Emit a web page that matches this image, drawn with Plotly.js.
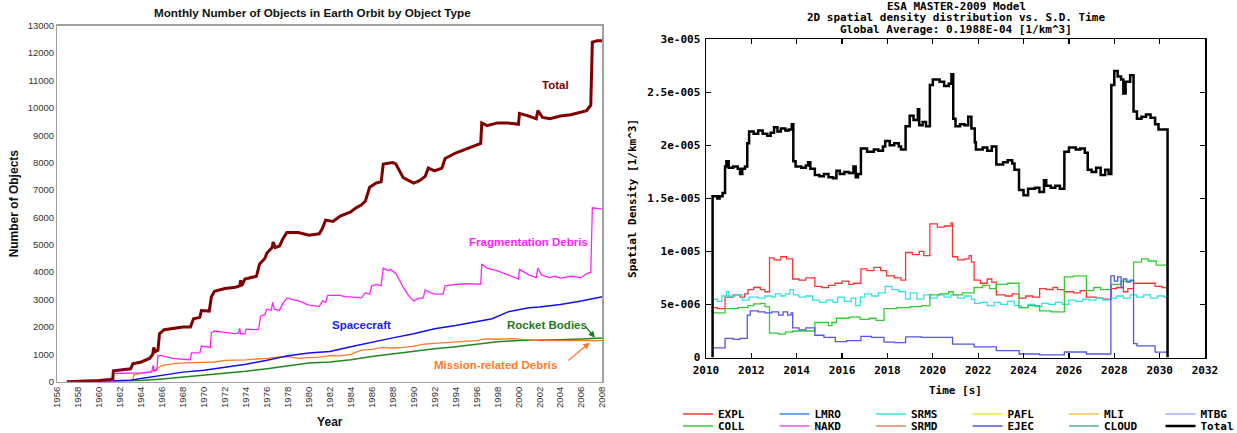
<!DOCTYPE html>
<html><head><meta charset="utf-8">
<script src="https://cdn.plot.ly/plotly-3.0.1.min.js"></script>
<style>html,body{margin:0;padding:0;background:#fff}#chart{width:1237px;height:433px}</style>
</head><body><div id="chart"></div>
<script>
// ===== Left chart: Monthly Number of Objects in Earth Orbit by Object Type =====
var totalYears = [1956.9,1958,1959,1960,1961,1961.3,1961.35,1962,1962.7,1963,1963.2,1964,1964.8,1965.1,1965.2,1965.35,1965.6,1965.75,1966.2,1967,1968,1968.7,1969,1969.6,1969.75,1970.5,1970.7,1971,1972,1973,1973.4,1973.5,1973.6,1973.9,1975,1975.3,1975.8,1976,1976.5,1976.6,1976.8,1977.2,1977.5,1977.9,1979,1980,1981,1981.3,1981.6,1982.3,1982.7,1983,1984,1984.5,1985,1985.4,1985.8,1986.4,1986.9,1987.1,1988,1988.3,1989,1989.5,1990,1990.6,1991.1,1991.4,1992,1992.7,1993,1994,1995,1996,1996.4,1996.5,1997,1998,1999,2000,2000.1,2001,2001.7,2001.85,2002.3,2003,2004,2005,2006,2006.5,2006.9,2007.05,2007.5,2008];
var totalCount = [0,10,20,40,80,100,400,430,480,470,650,720,850,1000,1250,1100,1150,1750,1900,1950,2000,2000,2300,2350,2600,2580,3100,3300,3400,3450,3500,3700,3500,3750,3850,4300,4500,4700,4900,5100,4900,4950,5200,5450,5450,5350,5400,5600,5900,5850,5950,6050,6200,6350,6450,6600,7100,7250,7300,7950,8000,7950,7450,7350,7250,7350,7500,7800,7700,7800,8150,8350,8500,8650,8700,9450,9350,9450,9450,9400,9800,9700,9600,9900,9650,9600,9700,9750,9850,9900,10100,12400,12450,12450];

var fragYears = [1956.9,1961.25,1961.3,1962,1963,1964,1965,1965.15,1965.25,1965.5,1965.6,1966,1966.5,1967,1968,1968.7,1968.8,1969.6,1969.75,1970.6,1970.7,1971,1972,1973,1973.3,1973.4,1973.5,1973.9,1974,1975.2,1975.4,1975.8,1976,1976.4,1976.55,1976.7,1977.2,1977.5,1977.9,1979,1980,1981,1981.3,1981.6,1981.8,1983,1983.5,1984,1985,1985.4,1985.8,1986,1986.5,1986.9,1987.1,1987.6,1987.8,1988.3,1989,1989.5,1990,1990.5,1990.9,1991.1,1991.6,1992,1992.8,1993,1994,1995,1996.4,1996.5,1997,1998,1999,2000,2000.1,2001,2001.7,2001.85,2002.2,2003,2003.5,2004,2005,2006,2006.5,2006.9,2007.05,2008];
var fragCount = [0,0,300,300,310,320,350,600,380,420,950,950,900,850,820,800,1050,1050,1300,1250,1800,1850,1800,1750,1780,1950,1750,1750,1920,1900,2400,2450,2650,2600,2900,2650,2600,2850,3050,2950,2800,2750,2950,2900,3150,3150,3100,3100,3050,3250,3200,3500,3550,3500,4150,4050,4100,3950,3450,3150,2950,3050,3050,3350,3250,3200,3200,3500,3550,3580,3560,4300,4150,4050,3900,3750,4100,3900,3800,4150,3900,3800,3850,3780,3850,3800,3950,4000,6350,6300];

var scYears = [1957.8,1960,1962,1963,1964,1965,1966,1967,1968,1970,1972,1974,1976,1978,1980,1982,1984,1986,1988,1990,1992,1994,1996,1997.5,1999,2000,2001,2002,2004,2006,2008];
var scCount = [0,10,30,50,120,180,250,300,350,420,520,640,780,950,1050,1100,1280,1450,1600,1750,1930,2050,2200,2300,2550,2620,2700,2730,2820,2950,3100];

var rbYears = [1958,1962,1964,1966,1968,1970,1972,1974,1976,1978,1980,1982,1984,1986,1988,1990,1992,1994,1996,1998,2000,2002,2004,2006,2008];
var rbCount = [0,10,40,100,170,230,300,380,470,580,680,720,800,920,1020,1100,1200,1280,1380,1460,1500,1510,1530,1560,1600];

var mrdYears = [1961.2,1962,1963.2,1963.3,1964,1965,1965.6,1966,1967,1968,1969,1970,1971,1972,1974,1976,1977,1978,1979,1980,1981,1982,1983,1984,1985,1986,1987,1988,1989,1990,1991,1992,1994,1996,1996.8,1998,1999.5,2001,2002,2004,2006,2008];
var mrdCount = [0,40,60,250,300,380,500,600,650,690,700,700,720,780,800,850,900,920,850,880,900,950,940,1000,1150,1180,1250,1230,1250,1300,1370,1400,1460,1500,1560,1550,1570,1540,1500,1500,1510,1500];

var leftLabels = ['Total','Fragmentation Debris','Spacecraft','Rocket Bodies','Mission-related Debris'];

// ===== Right chart: ESA MASTER-2009 spatial density (units of 1e-6 per km^3) =====
var totYears = [2010.29,2010.29,2010.5,2010.6,2010.73,2010.84,2010.9,2011.0,2011.2,2011.4,2011.5,2011.6,2011.72,2011.82,2011.9,2012.1,2012.3,2012.5,2012.7,2012.85,2013.0,2013.15,2013.3,2013.5,2013.65,2013.78,2013.85,2013.95,2014.2,2014.4,2014.5,2014.6,2014.8,2015.0,2015.2,2015.4,2015.6,2015.75,2015.9,2016.1,2016.3,2016.5,2016.6,2016.7,2016.83,2017.1,2017.4,2017.6,2017.8,2017.9,2018.1,2018.3,2018.5,2018.6,2018.8,2018.98,2019.15,2019.34,2019.4,2019.55,2019.7,2019.87,2020.0,2020.3,2020.5,2020.7,2020.82,2020.9,2021.0,2021.2,2021.4,2021.56,2021.7,2021.85,2021.9,2022.2,2022.4,2022.6,2022.8,2023.1,2023.3,2023.5,2023.6,2023.8,2024.0,2024.2,2024.5,2024.7,2024.9,2025.0,2025.2,2025.4,2025.6,2025.8,2026.0,2026.3,2026.5,2026.7,2026.83,2027.0,2027.2,2027.4,2027.6,2027.75,2027.87,2028.0,2028.15,2028.3,2028.4,2028.5,2028.7,2028.85,2029.0,2029.2,2029.4,2029.6,2029.8,2029.95,2030.35];
var totDensity = [0,15.2,15.0,15.2,15.5,18.0,18.5,17.9,18.0,17.8,17.3,17.8,18.0,20.2,21.3,21.1,21.4,21.1,20.9,21.2,21.7,21.3,21.6,21.4,21.5,22.0,18.5,18.0,17.9,18.1,18.4,17.8,17.2,17.1,17.3,17.0,16.9,17.6,17.3,17.5,17.4,18.0,17.0,17.3,19.7,19.4,19.6,19.5,19.9,20.4,20.0,20.2,19.9,19.6,21.8,22.8,22.4,23.4,21.9,22.2,21.8,25.7,26.2,26.0,25.6,25.8,26.7,22.5,21.8,22.0,21.9,22.7,21.6,20.3,19.6,19.8,19.5,19.9,18.2,18.4,18.6,18.3,17.7,15.8,15.3,15.9,16.0,15.6,16.7,16.2,16.0,16.2,15.9,19.4,19.8,19.6,19.7,19.3,17.7,17.5,17.9,17.2,17.7,17.3,25.7,27.0,26.5,26.2,24.9,26.0,26.6,23.2,22.5,22.7,22.9,22.6,22.0,21.5,0];

var explYears = [2010.3,2010.5,2010.84,2011.2,2011.5,2011.7,2011.85,2012.1,2012.4,2012.6,2012.8,2013.0,2013.3,2013.55,2013.82,2014.1,2014.4,2014.8,2015.1,2015.4,2015.68,2016.0,2016.3,2016.5,2016.83,2017.1,2017.4,2017.7,2017.96,2018.3,2018.6,2018.8,2019.1,2019.4,2019.6,2019.87,2020.2,2020.5,2020.8,2020.87,2021.1,2021.4,2021.6,2021.7,2021.82,2022.1,2022.4,2022.6,2022.8,2023.2,2023.5,2023.8,2024.1,2024.4,2024.71,2025.0,2025.3,2025.5,2025.8,2026.2,2026.5,2026.77,2027.2,2027.5,2027.87,2028.1,2028.4,2028.6,2028.85,2029.4,2029.8,2030.1,2030.35];
var explDensity = [4.7,4.6,5.7,5.9,5.7,6.0,6.4,6.6,6.4,6.2,9.4,9.2,9.5,9.3,7.4,7.3,7.5,6.7,6.6,6.8,7.0,7.2,6.9,7.0,8.35,8.2,8.5,8.2,7.7,7.5,7.3,9.9,9.7,10.0,9.6,12.6,12.3,12.4,12.7,9.5,9.2,9.3,9.6,9.0,7.3,7.0,7.4,7.1,5.9,5.8,6.0,5.6,5.8,5.7,6.5,6.4,6.6,6.4,6.2,6.1,6.3,5.7,5.6,5.5,6.5,6.6,6.2,6.5,7.0,7.0,6.7,6.6,6.7];

var collYears = [2010.3,2010.84,2011.4,2011.85,2012.1,2012.4,2012.6,2012.8,2013.2,2013.5,2013.82,2014.8,2015.4,2015.55,2015.75,2016.3,2016.8,2017.2,2017.5,2017.85,2018.4,2019.0,2019.5,2019.87,2020.3,2020.7,2020.9,2021.3,2021.82,2022.2,2022.5,2022.8,2023.3,2023.8,2024.2,2024.71,2025.2,2025.8,2026.2,2026.77,2027.1,2027.4,2027.87,2028.3,2028.85,2029.2,2029.5,2029.85,2030.35];
var collDensity = [4.2,4.6,4.7,4.9,5.05,5.1,4.8,2.3,2.2,2.4,2.5,3.3,3.0,3.3,3.7,3.8,3.6,3.7,3.5,4.6,4.7,4.8,4.9,5.9,6.0,6.2,5.9,6.1,6.6,6.8,6.5,6.9,7.0,4.7,4.9,4.4,4.3,7.6,7.7,6.3,6.6,6.4,6.9,7.2,9.0,9.3,9.1,8.7,8.8];

var srmsYears = [2010.3,2010.5,2010.7,2010.9,2011.0,2011.3,2011.6,2011.9,2012.3,2012.6,2012.9,2013.05,2013.3,2013.5,2013.7,2013.85,2014.1,2014.4,2014.7,2015.0,2015.3,2015.6,2015.8,2016.1,2016.4,2016.6,2016.8,2017.0,2017.3,2017.6,2017.9,2018.2,2018.5,2018.8,2019.0,2019.3,2019.6,2019.9,2020.2,2020.5,2020.8,2021.1,2021.4,2021.7,2021.85,2022.1,2022.4,2022.7,2023.0,2023.3,2023.6,2023.9,2024.2,2024.5,2024.8,2025.1,2025.4,2025.7,2026.0,2026.3,2026.6,2026.9,2027.2,2027.5,2027.8,2028.1,2028.4,2028.7,2029.0,2029.3,2029.6,2029.9,2030.2,2030.35];
var srmsDensity = [5.5,5.3,5.8,6.2,5.8,5.9,5.4,5.7,5.6,5.8,5.7,6.0,5.8,6.0,6.4,5.9,5.7,5.8,5.4,5.2,5.4,5.2,5.7,5.3,5.6,4.9,5.7,6.0,5.8,6.1,6.7,6.4,6.2,5.5,6.1,5.5,5.9,5.6,5.9,5.7,5.9,5.6,5.8,5.5,5.1,5.2,4.9,5.2,5.0,5.3,4.9,4.7,5.0,4.8,5.1,5.0,5.2,5.0,5.4,5.3,5.5,5.4,5.6,5.4,5.6,5.8,5.6,5.9,5.7,5.9,5.6,5.8,5.7,5.7];

var ejecYears = [2010.3,2010.84,2011.2,2011.5,2011.82,2011.95,2012.3,2012.6,2012.9,2013.2,2013.4,2013.6,2013.75,2013.82,2014.1,2014.4,2014.8,2015.2,2015.7,2016.2,2016.83,2017.3,2017.85,2018.3,2018.8,2019.5,2020.3,2020.87,2021.82,2022.8,2023.8,2024.71,2025.8,2026.77,2027.85,2028.0,2028.15,2028.3,2028.4,2028.55,2028.7,2028.85,2029.0,2029.5,2029.8,2030.35];
var ejecDensity = [0.9,1.8,1.7,1.8,4.0,4.4,4.3,4.2,4.3,4.0,4.3,4.0,4.2,2.8,2.6,2.8,2.1,1.9,1.5,1.6,2.0,1.9,1.45,1.4,1.95,1.9,1.9,1.27,1.0,0.65,0.33,0.24,0.52,0.33,7.7,7.2,7.6,6.6,7.4,7.1,7.3,1.3,1.1,1.1,0.5,0.5];

var densityTickVals = [0,5,10,15,20,25,30];
var densityTickText = ['0','5e-006','1e-005','1.5e-005','2e-005','2.5e-005','3e-005'];
var rightTitleLines = ['ESA MASTER-2009 Model','2D spatial density distribution vs. S.D. Time','Global Average: 0.1988E-04 [1/km^3]'];
var legendRow1 = ['EXPL','LMRO','SRMS','PAFL','MLI','MTBG'];
var legendRow2 = ['COLL','NAKD','SRMD','EJEC','CLOUD','Total'];

// ===== build =====
var W = 1237, H = 433;
var leftFont = 'Liberation Sans, Arial, sans-serif';
var monoFont = 'DejaVu Sans Mono, monospace';
function px(x){return x/W;}
function py(y){return (H-y)/H;}

var traces = [];
function leftLine(xs, ys, color, width){
  traces.push({type:'scatter',mode:'lines',x:xs,y:ys,xaxis:'x',yaxis:'y',showlegend:false,hoverinfo:'skip',
    line:{color:color,width:width}});
}
leftLine(rbYears, rbCount, '#1f8a1f', 1.5);
leftLine(mrdYears, mrdCount, '#ff7a2a', 1.3);
leftLine(scYears, scCount, '#1010f0', 1.5);
leftLine(fragYears, fragCount, '#ff22ff', 1.3);
leftLine(totalYears, totalCount, '#800000', 3);

var rightColors = {EXPL:'#ff3333',LMRO:'#3a8ef0',SRMS:'#33e3e3',PAFL:'#e8e830',MLI:'#f7c45a',MTBG:'#aab0ff',
  COLL:'#33cc33',NAKD:'#ee55ee',SRMD:'#dd8866',EJEC:'#5555e6',CLOUD:'#5aae8e',Total:'#000000'};
var rightData = {EXPL:[explYears,explDensity],SRMS:[srmsYears,srmsDensity],COLL:[collYears,collDensity],EJEC:[ejecYears,ejecDensity],Total:[totYears,totDensity]};
function rightTrace(name, legendId){
  var d = rightData[name] || [[null],[null]];
  traces.push({type:'scatter',mode:'lines',name:name,x:d[0],y:d[1],xaxis:'x2',yaxis:'y2',legend:legendId,
    line:{color:rightColors[name],width:name==='Total'?2.5:1.3,shape:'hv'},hoverinfo:'skip'});
}
legendRow1.forEach(function(n){rightTrace(n,'legend');});
legendRow2.forEach(function(n){rightTrace(n,'legend2');});

var annotations = [];
annotations.push({xref:'paper',yref:'paper',x:px(313),y:py(12),xanchor:'center',yanchor:'middle',showarrow:false,
  text:'<b>Monthly Number of Objects in Earth Orbit by Object Type</b>',font:{family:leftFont,size:11.7,color:'#111'}});
var labelColors = ['#800000','#ff22ff','#1a1aff','#1d7a1d','#ff7a2a'];
var labelPos = [[2003.5,10840],[2001.0,5085],[1985.0,2080],[2002.7,2080],[1997.85,595]];
leftLabels.forEach(function(t,i){
  annotations.push({xref:'x',yref:'y',x:labelPos[i][0],y:labelPos[i][1],showarrow:false,text:'<b>'+t+'</b>',
    font:{family:leftFont,size:11.5,color:labelColors[i]}});
});
annotations.push({xref:'x',yref:'y',x:2007.3,y:1606,ax:-11,ay:-13,showarrow:true,arrowhead:2,arrowsize:1,arrowwidth:1.3,arrowcolor:'#1d7a1d',text:''});
annotations.push({xref:'x',yref:'y',x:2006.8,y:1423,ax:-23,ay:19,showarrow:true,arrowhead:2,arrowsize:1,arrowwidth:1.3,arrowcolor:'#ff7a2a',text:''});
var titleY = [6,17.5,29];
rightTitleLines.forEach(function(t,i){
  annotations.push({xref:'paper',yref:'paper',x:px(956),y:py(titleY[i]),xanchor:'center',yanchor:'middle',showarrow:false,
    text:t,font:{family:monoFont,size:11,color:'#000',weight:'bold'}});
});

var legendCommon = {orientation:'h',xanchor:'left',yanchor:'middle',entrywidth:51.5,entrywidthmode:'pixels',
  font:{family:monoFont,size:11,color:'#000',weight:'bold'},bgcolor:'rgba(0,0,0,0)',borderwidth:0,itemclick:false,itemdoubleclick:false};
var legend1 = Object.assign({}, legendCommon, {x:px(678),y:py(414)});
var legend2 = Object.assign({}, legendCommon, {x:px(678),y:py(426)});

var layout = {
  width:W,height:H,margin:{l:0,r:0,t:0,b:0,autoexpand:false},paper_bgcolor:'#fff',plot_bgcolor:'#fff',
  showlegend:true,
  xaxis:{domain:[px(57.3),px(602.3)],range:[1956,2008],dtick:2,tick0:1956,tickangle:-90,showgrid:false,zeroline:false,
    showline:true,mirror:true,linecolor:'#a0a0a0',linewidth:1.3,ticks:'',tickfont:{family:leftFont,size:9.5,color:'#333'},
    title:{text:'<b>Year</b>',font:{family:leftFont,size:12,color:'#111'},standoff:10},automargin:false},
  yaxis:{domain:[py(381.7),py(25.7)],range:[0,13000],dtick:1000,tickformat:'d',showgrid:false,zeroline:false,
    showline:true,mirror:true,linecolor:'#a0a0a0',linewidth:1.3,ticks:'',tickfont:{family:leftFont,size:9.5,color:'#333'},
    title:{text:'<b>Number of Objects</b>',font:{family:leftFont,size:12,color:'#111'},standoff:6},automargin:false},
  xaxis2:{domain:[px(706),px(1205)],range:[2010,2032],dtick:2,tick0:2010,anchor:'y2',showgrid:false,zeroline:false,
    showline:true,mirror:'ticks',linecolor:'#000',linewidth:1.5,ticks:'inside',ticklen:5,tickcolor:'#000',tickwidth:1.3,
    ticklabelstandoff:2,
    tickfont:{family:monoFont,size:11,color:'#000',weight:'bold'},
    title:{text:'Time [s]',font:{family:monoFont,size:11,color:'#000',weight:'bold'},standoff:10},automargin:false},
  yaxis2:{domain:[py(357.5),py(39.3)],range:[0,30],tickvals:densityTickVals,ticktext:densityTickText,anchor:'x2',showgrid:false,zeroline:false,
    showline:true,mirror:'ticks',linecolor:'#000',linewidth:1.5,ticks:'inside',ticklen:5,tickcolor:'#000',tickwidth:1.3,
    ticklabelstandoff:2,
    tickfont:{family:monoFont,size:11,color:'#000',weight:'bold'},
    title:{text:'Spatial Density [1/km^3]',font:{family:monoFont,size:11,color:'#000',weight:'bold'},standoff:8},automargin:false},
  legend:legend1,
  legend2:legend2,
  annotations:annotations
};
Plotly.newPlot('chart',traces,layout,{displayModeBar:false,staticPlot:true});
</script></body></html>
